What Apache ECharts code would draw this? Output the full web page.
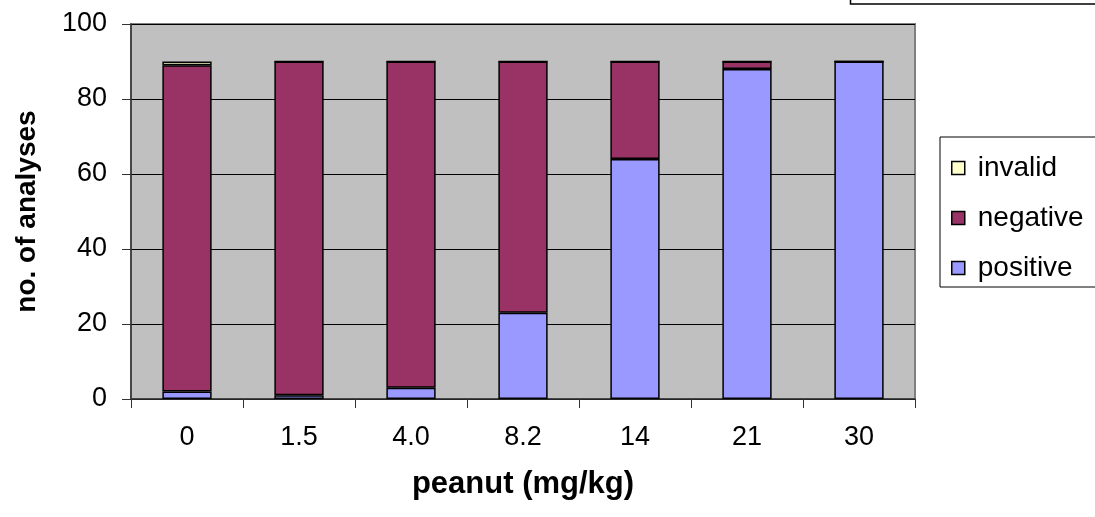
<!DOCTYPE html>
<html>
<head>
<meta charset="utf-8">
<script src="https://cdn.jsdelivr.net/npm/echarts@6/dist/echarts.min.js"></script>
<style>html,body{margin:0;padding:0;background:#fff}#c{width:1095px;height:517px}</style>
</head>
<body>
<div id="c"></div>
<script>
const categories = ['0', '1.5', '4.0', '8.2', '14', '21', '30'];
const positive = [2, 1, 3, 23, 64, 88, 90];
const negative = [87, 89, 87, 67, 26, 2, 0];
const invalid = [1, 0, 0, 0, 0, 0, 0];
const yTicks = [0, 20, 40, 60, 80, 100];

const FONT = '"Liberation Sans", Arial, sans-serif';
const chart = echarts.init(document.getElementById('c'), null, {renderer: 'canvas'});
const barStyle = (color) => ({color: color, borderColor: '#000', borderWidth: 1.5});
chart.setOption({
  animation: false,
  backgroundColor: '#fff',
  grid: {left: 131, right: 180, top: 24, bottom: 118, show: true, backgroundColor: '#C0C0C0', borderColor: '#808080', borderWidth: 2},
  legend: {
    orient: 'vertical', left: 946, top: 149, itemWidth: 13, itemHeight: 13, itemGap: 22,
    icon: 'rect',
    textStyle: {fontFamily: FONT, fontSize: 28, color: '#000', padding: [0, 0, 0, 8]},
    data: [
      {name: 'invalid', itemStyle: barStyle('#FFFFCC')},
      {name: 'negative', itemStyle: barStyle('#993366')},
      {name: 'positive', itemStyle: barStyle('#9999FF')}
    ]
  },
  graphic: [
    {type: 'rect', shape: {x: 940, y: 137, width: 200, height: 150}, style: {fill: 'none', stroke: '#000', lineWidth: 1}, z: -1},
    {type: 'rect', shape: {x: 850.5, y: -10, width: 300, height: 14}, style: {fill: 'none', stroke: '#000', lineWidth: 1.5}}
  ],
  xAxis: {
    type: 'category', data: categories, boundaryGap: true,
    name: 'peanut (mg/kg)', nameLocation: 'middle', nameGap: 70,
    nameTextStyle: {fontFamily: FONT, fontSize: 31, fontWeight: 'bold', color: '#000'},
    axisLine: {lineStyle: {color: '#333', width: 1.5}},
    axisTick: {show: true, length: 9, lineStyle: {color: '#333'}},
    axisLabel: {fontFamily: FONT, fontSize: 27, color: '#000', margin: 25}
  },
  yAxis: {
    type: 'value', min: 0, max: 100, interval: 20,
    name: 'no. of analyses', nameLocation: 'middle', nameGap: 90,
    nameTextStyle: {fontFamily: FONT, fontSize: 28, fontWeight: 'bold', color: '#000'},
    axisLine: {show: true, lineStyle: {color: '#333', width: 1.5}},
    axisTick: {show: true, length: 9, lineStyle: {color: '#333'}},
    axisLabel: {fontFamily: FONT, fontSize: 27, color: '#000', margin: 24,
      formatter: (v) => yTicks.includes(v) ? String(v) : ''},
    splitLine: {show: true, lineStyle: {color: '#000', width: 1}}
  },
  series: [
    {name: 'positive', type: 'bar', stack: 's', data: positive, barWidth: '44%', itemStyle: barStyle('#9999FF')},
    {name: 'negative', type: 'bar', stack: 's', data: negative, barWidth: '44%', itemStyle: barStyle('#993366')},
    {name: 'invalid', type: 'bar', stack: 's', data: invalid, barWidth: '44%', itemStyle: barStyle('#FFFFCC')}
  ]
});
</script>
</body>
</html>
